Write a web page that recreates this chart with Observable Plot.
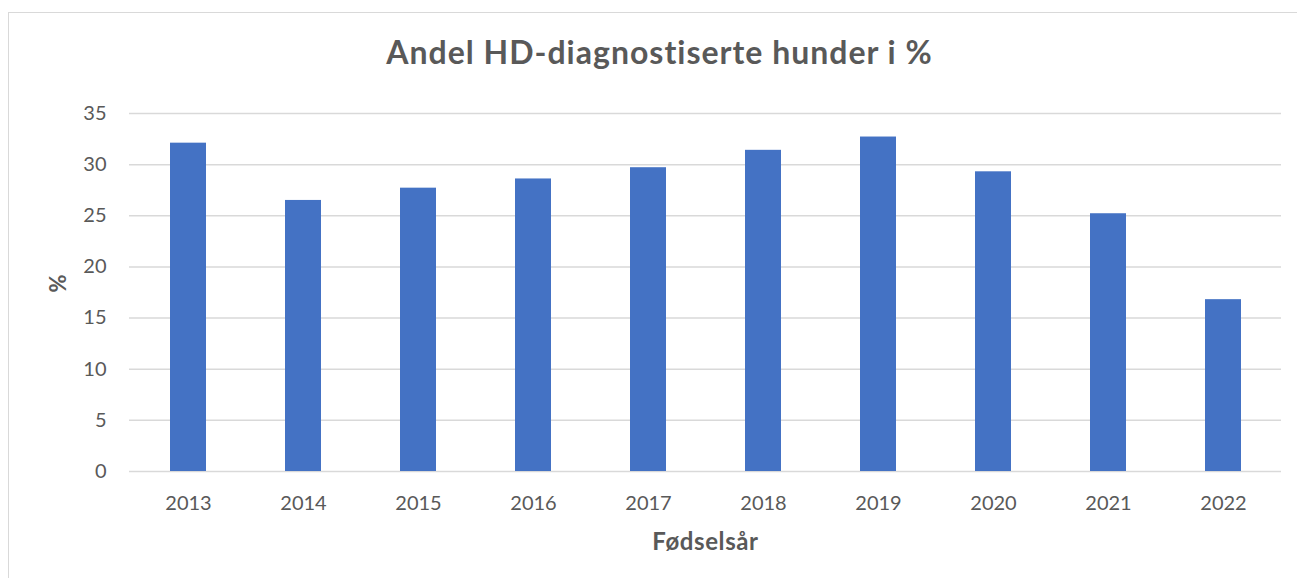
<!DOCTYPE html>
<html>
<head>
<meta charset="utf-8">
<script src="https://cdn.jsdelivr.net/npm/d3@7"></script>
<script src="https://cdn.jsdelivr.net/npm/@observablehq/plot@0.6"></script>
<style>
  html, body { margin: 0; padding: 0; background: #fff; }
  #wrap { position: relative; width: 1297px; height: 578px; overflow: hidden; }
  #frame { position: absolute; left: 8px; top: 12px; width: 1300px; height: 600px; border: 1.5px solid #d9d9d9; box-sizing: border-box; }
  #chart { position: absolute; left: 0; top: 0; }
  svg { font-family: Lato, "Liberation Sans", sans-serif; }
  .ttl text { letter-spacing: 1px; }
  .xttl text { letter-spacing: 0.6px; }
</style>
</head>
<body>
<div id="wrap"><div id="frame"></div><div id="chart"></div></div>
<script>
const years = ["2013","2014","2015","2016","2017","2018","2019","2020","2021","2022"];
const values = [32.1, 26.5, 27.7, 28.6, 29.7, 31.4, 32.7, 29.3, 25.2, 16.8];
const yTicks = [0, 5, 10, 15, 20, 25, 30, 35];
const title = "Andel HD-diagnostiserte hunder i %";
const xTitle = "Fødselsår";
const yTitle = "%";

const data = years.map((y, i) => ({year: y, value: values[i]}));

const chart = Plot.plot({
  width: 1297,
  height: 578,
  marginTop: 113,
  marginBottom: 107,
  marginLeft: 129,
  marginRight: 16,
  style: {background: "transparent", color: "#595959", fontFamily: "Lato, 'Liberation Sans', sans-serif"},
  x: {domain: years, paddingInner: 0.6875, paddingOuter: 0.34375, label: null},
  y: {domain: [0, 35], label: null},
  marks: [
    Plot.gridY(yTicks, {stroke: "#d9d9d9", strokeOpacity: 1, strokeWidth: 1.5}),
    Plot.barY(data, {x: "year", y: "value", fill: "#4472C4"}),
    Plot.axisY(yTicks, {tickSize: 0, tickPadding: 23, fontSize: 20, fill: "#595959", label: null}),
    Plot.axisX(years, {tickSize: 0, tickPadding: 24, fontSize: 20, fill: "#595959", label: null}),
    Plot.text([title], {frameAnchor: "top", dx: -46, dy: -72, fontSize: 32, fontWeight: "bold", fill: "#595959", className: "ttl"}),
    Plot.text([xTitle], {frameAnchor: "bottom", dy: 78, fontSize: 24, fontWeight: "bold", fill: "#595959", className: "xttl"}),
    Plot.text([yTitle], {frameAnchor: "left", dx: -71, rotate: -90, fontSize: 22, fontWeight: "bold", fill: "#595959"})
  ]
});
document.getElementById("chart").appendChild(chart);
</script>
</body>
</html>
